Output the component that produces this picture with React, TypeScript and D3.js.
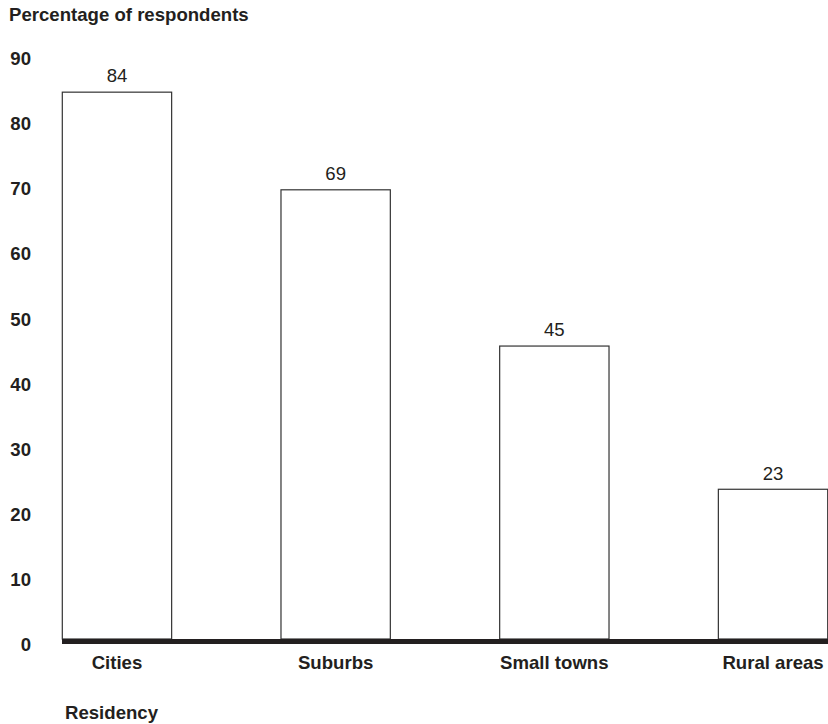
import React from "react";
import * as d3 from "d3";

const categories = ["Cities", "Suburbs", "Small towns", "Rural areas"];
const values = [84, 69, 45, 23];
const yTicks = [0, 10, 20, 30, 40, 50, 60, 70, 80, 90];
const yTitle = "Percentage of respondents";
const xTitle = "Residency";

const W = 828;
const H = 724;
const INK = "#231f20";
const FONT = "'Liberation Sans', Arial, Helvetica, sans-serif";
const FS = 18.6;

export default function App() {
  const x = d3
    .scaleBand<string>()
    .domain(categories)
    .range([62.3, 827.7])
    .paddingInner(0.5)
    .paddingOuter(0);
  const y = d3.scaleLinear().domain([0, 90]).range([639, 639 - 90 * 6.51]);

  return (
    <svg
      width={W}
      height={H}
      style={{ position: "absolute", left: 0, top: 0, background: "#fff" }}
      fontFamily={FONT}
    >
      <rect x={0} y={0} width={W} height={H} fill="#fff" />
      <text x={9} y={20.5} fontSize={FS} fontWeight="bold" fill={INK}>
        {yTitle}
      </text>
      {yTicks.map((t) => (
        <text
          key={t}
          x={31}
          y={y(t) + 12}
          fontSize={FS}
          fontWeight="bold"
          textAnchor="end"
          fill={INK}
        >
          {t}
        </text>
      ))}
      {categories.map((c, i) => {
        const bx = x(c)!;
        const bw = x.bandwidth();
        const top = y(values[i]);
        return (
          <g key={c}>
            <rect
              x={bx}
              y={top}
              width={bw}
              height={y(0) - top}
              fill="#fff"
              stroke="#333"
              strokeWidth={1.2}
            />
            <text
              x={bx + bw / 2}
              y={top - 9.7}
              fontSize={FS}
              textAnchor="middle"
              fill={INK}
            >
              {values[i]}
            </text>
            <text
              x={bx + bw / 2}
              y={669}
              fontSize={FS}
              fontWeight="bold"
              textAnchor="middle"
              fill={INK}
            >
              {c}
            </text>
          </g>
        );
      })}
      <rect x={62} y={y(0)} width={W - 62} height={5} fill={INK} />
      <text x={65} y={719} fontSize={FS} fontWeight="bold" fill={INK}>
        {xTitle}
      </text>
    </svg>
  );
}
